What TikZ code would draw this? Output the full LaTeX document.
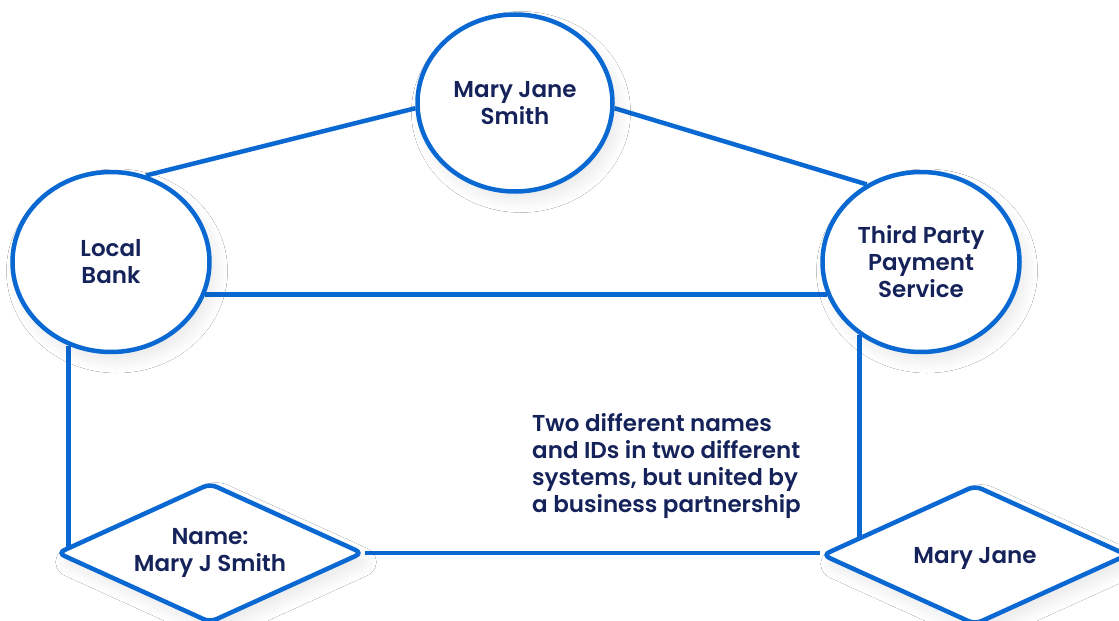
\documentclass[tikz,border=0pt]{standalone}
\usepackage{fontspec}
\setmainfont{Poppins}[BoldFont={Poppins SemiBold}]
\usetikzlibrary{shapes.geometric,shadows.blur,backgrounds}
\definecolor{linkblue}{HTML}{0A68D2}
\definecolor{inkNavy}{HTML}{15235A}
\tikzset{
  link/.style={draw=linkblue, line width=4.5pt},
  soft/.style={blur shadow={shadow xshift=6pt, shadow yshift=-9pt, shadow blur radius=12pt, shadow blur steps=20, shadow opacity=9}},
  label text/.style={font=\fontsize{23}{27}\selectfont\bfseries, text=inkNavy},
  entity/.style={ellipse, link, fill=white, soft, minimum width=197pt, minimum height=180pt, inner sep=0pt,
    label text, align=center},
  record/.style={diamond, link, fill=white, soft, rounded corners=7pt, minimum width=306pt, minimum height=140pt,
    aspect=2.19, inner sep=0pt, label text, align=center},
  note/.style={label text, align=left, inner sep=0pt}
}
\begin{document}
\begin{tikzpicture}[x=1pt, y=-1pt]
  \useasboundingbox (0,0) rectangle (1119,621);
  \clip (0,0) rectangle (1119,621);

  % parties
  \node[entity, minimum width=195pt, minimum height=177pt] (person) at (515,103) {Mary Jane\\Smith};
  \node[entity] (bank) at (111,262) {Local\\Bank};
  \node[entity] (payment) at (921,262) {Third Party\\Payment\\Service};

  % account records
  \node[record] (bankrec) at (210,553) {Name:\\Mary J Smith};
  \node[record, text height=23pt] (payrec) at (975,555) {Mary Jane};

  \node[note, anchor=west] (remark) at (532,466) {Two different names\\and IDs in two different\\systems, but united by\\a business partnership};

  \begin{scope}[on background layer]
    \fill[white] (0,0) rectangle (1119,621);
    \draw[link] (bank.68) -- (person.183);
    \draw[link] (person.357) -- (payment.125);
    \draw[link] (bank.-19.7) -- (payment.199.7);
    \draw[link] (bank.243.4) -- (bank.243.4 |- bankrec.west);
    \draw[link] (payment.230) -- (payment.230 |- payrec.west);
    \draw[link] (bankrec.east) -- (bankrec.east -| payrec.west);
  \end{scope}
\end{tikzpicture}
\end{document}
